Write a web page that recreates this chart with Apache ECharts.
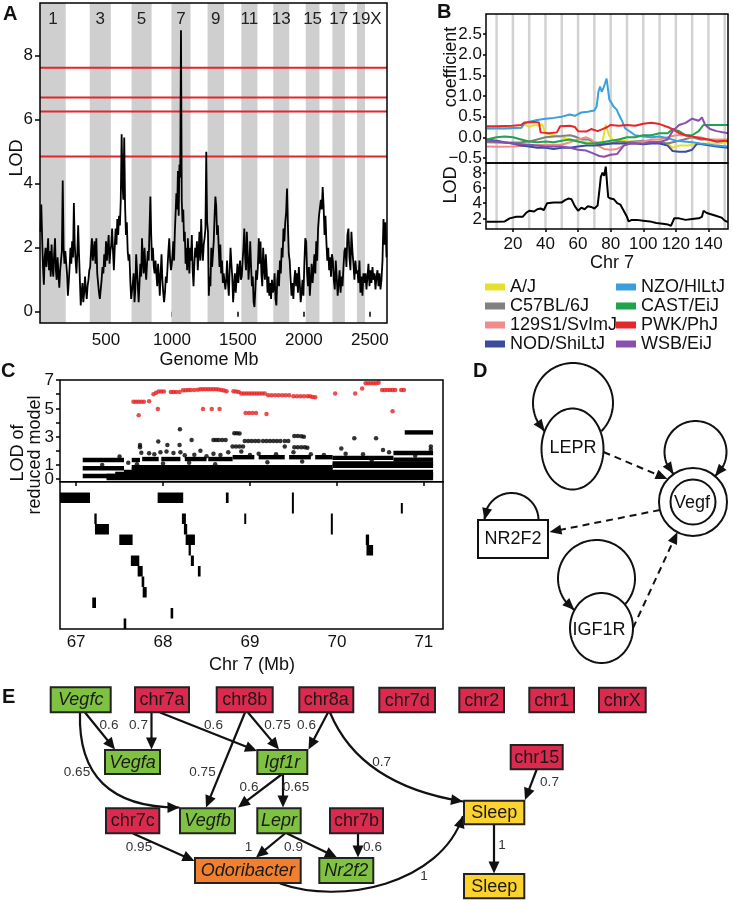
<!DOCTYPE html>
<html><head><meta charset="utf-8">
<script src="https://cdn.jsdelivr.net/npm/echarts@6/dist/echarts.min.js"></script>
<style>html,body{margin:0;padding:0;background:#fff}#c{width:733px;height:901px}</style>
</head><body><div id="c"></div><script>
const FONT = "'Liberation Sans', Arial, Helvetica, sans-serif";

// ================= Panel A data =================
const CHR_NAMES = ['1','2','3','4','5','6','7','8','9','10','11','12','13','14','15','16','17','18','19','X'];
const CHR_LEN = [195,182,160,157,152,150,145,129,125,131,122,120,121,125,104,98,95,91,61,167];
const LOD_C1 = [2.5,3.35,2.3,1.4,0.85,1.7,2.0,1.4,1.8,2.3,1.3,1.9,1.1,2.1,1.4,1.1,1.8,2.3,1.3,1.0,1.7,1.2,0.75,1.3,1.6,1.9,4.1,2.0,1.5,1.9];
const LOD_C2 = [1.9,1.2,0.5,0.9,1.4,2.0,1.5,2.2,1.7,3.4,2.1,1.6,1.2,1.8,2.7,1.8,1.0,0.2,0.6,0.9,0.3,0.6,1.1,0.7,0.4,0.8,1.0,1.3];
const LOD_C3 = [1.4,1.9,2.3,1.6,1.9,2.2,1.5,2.3,1.2,0.9,0.6,0.4,0.7,1.0,1.4,1.2,1.8,1.4,2.2,1.6,2.0,2.4,1.5,1.9];
const LOD_C4 = [2.1,2.6,1.9,1.3,2.0,2.6,2.1,2.9,2.4,3.0,2.7,3.5,5.55,4.0,3.5,5.45,3.3,2.4,2.8,1.9,1.6,1.8,1.0,0.4];
const LOD_C5 = [0.4,0.9,1.2,0.3,0.7,1.8,1.3,0.8,0.3,0.9,1.5,1.1,2.3,1.6,1.2,2.0,1.4,1.0,1.5,1.9,1.6,2.6,3.6,2.4];
const LOD_C6 = [1.6,2.0,1.4,1.2,1.6,1.2,0.8,1.5,1.1,0.5,1.2,1.8,1.0,0.6,0.3,0.6,1.1,0.9,1.4,1.9,2.3,1.6,1.3];
const LOD_C7 = [1.5,1.8,2.2,1.6,2.5,3.1,3.7,3.2,4.4,3.0,4.6,4.2,8.8,3.5,2.8,3.2,2.2,2.5,1.5,2.0,1.3,2.3,1.6,1.2,2.0];
const LOD_C8 = [1.6,2.4,1.3,0.8,1.5,2.0,1.7,2.2,1.3,1.9,2.5,1.6,2.9,2.0,1.6,2.1,2.3,2.6,5.0,2.8];
const LOD_C9 = [2.5,0.5,1.1,0.8,2.0,1.4,1.8,2.2,3.0,3.6,3.3,2.4,2.7,2.0,1.4,2.1,1.2,1.6,0.9,1.2];
const LOD_C10 = [1.2,0.7,1.0,1.6,0.9,0.5,1.3,2.0,1.5,1.1,0.3,0.8,1.2,0.6,1.0,1.5,0.9,1.3,1.6,1.0];
const LOD_C11 = [1.1,1.6,2.0,2.6,1.7,1.3,2.5,1.8,1.0,1.5,2.2,1.4,0.8,1.1,0.3,0.15,0.7,1.3,1.0];
const LOD_C12 = [1.4,2.3,1.5,2.2,1.2,0.8,2.0,1.4,1.0,1.8,1.3,0.6,1.1,0.5,0.9,0.4,1.0,0.6];
const LOD_C13 = [0.7,1.2,0.4,0.2,1.0,1.3,0.8,1.6,1.2,2.0,1.7,2.6,2.2,2.8,3.1,3.85,2.7,1.8];
const LOD_C14 = [1.6,1.0,0.5,0.9,0.4,1.0,1.3,0.8,1.2,0.6,1.4,0.9,0.3,0.6,1.0,0.5,1.5,2.3];
const LOD_C15 = [2.2,1.2,0.8,1.4,0.5,1.0,1.5,0.9,1.3,1.8,1.2,2.2,1.6,2.6,3.0];
const LOD_C16 = [3.0,3.5,3.2,3.9,3.3,2.4,3.0,2.2,1.6,2.0,1.3,1.7,1.1,1.8];
const LOD_C17 = [1.6,1.0,0.7,1.6,1.1,0.5,0.9,1.3,0.6,1.1,0.8,1.4,1.9];
const LOD_C18 = [2.0,1.4,2.4,2.6,1.7,1.3,2.5,1.9,1.5,1.0,1.6,1.2];
const LOD_C19 = [1.3,0.9,1.6,0.6,1.1,0.5,1.2,0.9];
const LOD_CX = [1.2,0.7,1.1,1.5,0.8,1.3,0.9,1.4,1.0,1.2,0.7,1.1,1.3,0.8,1.2,0.7,1.0,1.6,2.9,2.1,2.8,1.7];
const LOD_BY_CHR = [LOD_C1,LOD_C2,LOD_C3,LOD_C4,LOD_C5,LOD_C6,LOD_C7,LOD_C8,LOD_C9,LOD_C10,LOD_C11,LOD_C12,LOD_C13,LOD_C14,LOD_C15,LOD_C16,LOD_C17,LOD_C18,LOD_C19,LOD_CX];
const THRESHOLDS_A = [7.63, 6.70, 6.26, 4.85];
const A_XTICKS = [500,1000,1500,2000,2500];
const A_YTICKS = [0,2,4,6,8];

// ================= Panel B data =================
const STRAINS = ['A/J','C57BL/6J','129S1/SvImJ','NOD/ShiLtJ','NZO/HlLtJ','CAST/EiJ','PWK/PhJ','WSB/EiJ'];
const STRAIN_COLORS = ['#e6e02c','#808080','#f08c8c','#3a4ca0','#3c9fdb','#1fa34b','#e5262b','#8a4eaf'];
const COEF_AJ = [[4,0.2],[15,0.2],[25,0.22],[27,0.32],[30,0.25],[33,0.3],[36,0.28],[38,0.32],[40,0.1],[45,0.05],[50,0.0],[55,-0.05],[60,-0.1],[65,-0.12],[70,-0.15],[75,-0.1],[77,0.3],[79,0.05],[82,-0.1],[85,-0.05],[90,-0.1],[95,-0.1],[100,-0.1],[105,-0.12],[110,-0.1],[115,-0.15],[118,-0.25],[122,-0.2],[127,-0.2],[132,-0.18],[138,-0.15],[145,-0.15],[152,-0.12]];
const COEF_B6 = [[4,-0.12],[15,-0.13],[25,-0.12],[30,-0.1],[35,-0.05],[40,0.0],[45,0.02],[50,0.03],[55,0.05],[58,0.02],[62,-0.05],[66,-0.05],[70,-0.12],[75,-0.15],[80,-0.15],[85,-0.1],[90,-0.12],[95,-0.1],[100,-0.08],[105,-0.1],[110,-0.12],[115,-0.15],[120,-0.1],[125,-0.05],[130,0.0],[135,-0.05],[140,-0.05],[145,-0.1],[152,-0.08]];
const COEF_129 = [[4,-0.22],[10,-0.23],[20,-0.22],[30,-0.2],[40,-0.18],[50,-0.18],[55,-0.12],[60,-0.05],[65,0.0],[68,-0.05],[72,-0.2],[76,-0.28],[80,-0.3],[84,-0.28],[88,-0.2],[92,-0.15],[96,-0.12],[100,-0.1],[105,-0.05],[110,-0.05],[115,0.0],[120,0.05],[125,0.05],[130,0.0],[135,0.0],[140,-0.05],[145,-0.05],[152,-0.05]];
const COEF_NOD = [[4,-0.05],[10,-0.08],[15,-0.12],[20,-0.15],[25,-0.2],[30,-0.22],[35,-0.25],[40,-0.25],[45,-0.28],[50,-0.25],[55,-0.25],[60,-0.22],[65,-0.2],[70,-0.2],[75,-0.18],[80,-0.15],[85,-0.15],[90,-0.15],[95,-0.15],[100,-0.17],[105,-0.15],[110,-0.15],[115,-0.2],[118,-0.33],[122,-0.35],[126,-0.35],[130,-0.3],[133,-0.15],[138,-0.18],[145,-0.22],[152,-0.25]];
const COEF_NZO = [[4,0.22],[15,0.22],[25,0.23],[27,0.33],[30,0.38],[35,0.42],[40,0.45],[45,0.47],[50,0.5],[55,0.55],[58,0.52],[62,0.6],[66,0.62],[70,0.65],[71.4,0.75],[72.5,1.1],[73.5,1.23],[74.5,1.1],[75.5,1.19],[76.5,1.3],[77.5,1.42],[78.6,1.46],[79.2,0.91],[80.6,0.83],[81.6,0.75],[83.7,0.67],[85,0.55],[86.7,0.42],[88.8,0.22],[91.8,0.14],[95,0.05],[100,0.02],[105,0.0],[110,0.02],[115,-0.02],[120,-0.08],[125,-0.1],[130,-0.12],[135,-0.15],[140,-0.17],[145,-0.2],[152,-0.22]];
const COEF_CAST = [[4,-0.05],[10,0.0],[15,0.02],[20,0.0],[25,-0.05],[30,-0.1],[35,-0.12],[40,-0.1],[45,-0.12],[50,-0.08],[55,-0.05],[60,-0.1],[65,-0.15],[70,-0.15],[75,-0.12],[80,-0.08],[85,-0.05],[90,0.0],[95,0.0],[100,0.05],[105,0.05],[110,0.1],[115,0.1],[118,0.2],[122,0.15],[126,0.05],[130,0.05],[134,0.15],[137,0.3],[145,0.3],[152,0.3]];
const COEF_PWK = [[4,0.27],[10,0.27],[20,0.28],[25,0.3],[27,0.36],[33,0.37],[36,0.36],[37,0.12],[42,0.1],[47,0.12],[49,0.27],[55,0.28],[58,0.25],[60,0.15],[65,0.14],[68,0.2],[72,0.15],[75,0.2],[78,0.25],[80,0.3],[85,0.28],[90,0.3],[95,0.28],[100,0.33],[105,0.35],[110,0.32],[115,0.25],[118,0.2],[122,0.1],[126,0.05],[130,0.02],[135,-0.02],[140,-0.05],[145,-0.1],[150,-0.08],[152,-0.1]];
const COEF_WSB = [[4,-0.08],[10,-0.1],[20,-0.15],[30,-0.18],[40,-0.22],[50,-0.22],[55,-0.25],[60,-0.3],[65,-0.32],[70,-0.4],[73,-0.45],[76,-0.47],[80,-0.42],[84,-0.4],[88,-0.2],[92,-0.15],[100,-0.15],[105,-0.12],[110,-0.12],[115,-0.05],[118,0.15],[122,0.3],[126,0.35],[130,0.45],[134,0.4],[136,0.48],[138,0.3],[141,0.2],[145,0.15],[152,0.1]];
const COEF_BY_STRAIN = [COEF_AJ,COEF_B6,COEF_129,COEF_NOD,COEF_NZO,COEF_CAST,COEF_PWK,COEF_WSB];
const LOD_CHR7 = [[4,1.55],[10,1.55],[15,1.6],[18,2.0],[22,2.2],[26,2.2],[28,2.7],[30,3.0],[33,2.9],[35,3.2],[37,3.3],[39,3.1],[41,4.0],[45,4.1],[50,4.1],[52,4.4],[54,4.6],[55,4.8],[56,4.5],[58,3.6],[60,3.0],[62,3.4],[64,3.2],[66,3.6],[68,3.5],[70,3.3],[72,3.7],[73,5.5],[74,7.5],[75,8.0],[76,7.6],[77,8.8],[78,6.0],[78.5,4.8],[80,4.6],[82,4.5],[84,4.0],[86,3.8],[88,3.0],[90,2.2],[91,1.6],[93,1.8],[96,1.8],[100,1.7],[104,1.6],[108,1.4],[112,1.3],[115,1.2],[117,1.0],[118,0.9],[119,2.0],[122,2.0],[126,1.8],[130,1.9],[134,2.0],[136,2.2],[137,3.0],[139,2.7],[142,2.5],[145,2.3],[148,2.1],[150,1.7],[152,1.5]];
const B_GRIDLINES = [10,20,30,40,50,60,70,80,90,100,110,120,130,140,150];
const B_XTICKS = [20,40,60,80,100,120,140];
const B_COEF_TICKS = [-0.5,0,0.5,1,1.5,2,2.5];
const B_LOD_TICKS = [2,4,6,8];

// ================= Panel C data =================
const RED_C = [[67.66,5.47],[67.69,5.47],[67.72,5.47],[67.75,5.47],[67.78,5.47],[67.72,4.52],[67.84,5.5],[67.89,6.0],[67.92,6.1],[67.95,6.18],[67.98,6.18],[68.01,6.18],[67.94,4.95],[68.09,6.15],[68.12,6.15],[68.15,6.15],[68.19,6.15],[68.23,6.28],[68.26,6.28],[68.29,6.3],[68.32,6.3],[68.36,6.3],[68.40,6.32],[68.43,6.35],[68.46,6.35],[68.49,6.35],[68.52,6.35],[68.55,6.35],[68.58,6.35],[68.61,6.35],[68.64,6.33],[68.67,6.3],[68.70,6.25],[68.73,6.2],[68.46,4.95],[68.56,4.95],[68.65,4.95],[68.81,6.2],[68.84,6.18],[68.87,6.15],[68.90,6.05],[68.93,6.05],[68.96,6.05],[68.99,6.05],[69.02,6.05],[69.05,6.05],[69.08,6.05],[69.11,6.05],[69.14,6.05],[69.17,6.05],[68.95,4.67],[68.99,4.67],[69.03,4.67],[69.07,4.67],[69.19,4.6],[69.21,5.93],[69.25,5.93],[69.29,5.93],[69.33,5.93],[69.37,5.93],[69.41,5.93],[69.45,5.93],[69.50,5.85],[69.54,5.85],[69.58,5.85],[69.62,5.85],[69.66,5.85],[69.69,5.85],[69.72,5.8],[69.75,5.78],[69.98,6.05],[70.21,6.05],[70.29,6.4],[70.33,6.77],[70.36,6.77],[70.39,6.77],[70.42,6.77],[70.45,6.77],[70.48,6.8],[70.52,6.3],[70.55,6.3],[70.58,6.3],[70.61,6.3],[70.64,6.3],[70.67,6.3],[70.64,4.8],[70.74,6.3],[70.77,6.3]];
const BLACK_C = [[67.735,2.41],[67.735,2.25],[67.75,1.87],[67.945,2.65],[68.05,2.41],[68.19,2.41],[68.194,3.52],[68.329,2.77],[68.58,2.77],[68.61,2.77],[68.64,2.77],[68.68,2.77],[68.72,2.77],[68.82,3.24],[68.85,3.24],[68.88,3.22],[68.80,2.3],[68.84,2.3],[68.88,2.3],[68.92,2.3],[68.94,2.7],[68.98,2.7],[69.02,2.7],[69.06,2.7],[69.10,2.7],[69.15,2.7],[69.19,2.7],[69.23,2.7],[69.27,2.7],[69.31,2.7],[69.35,2.7],[69.40,2.7],[69.44,2.7],[69.40,2.3],[69.51,3.05],[69.55,3.05],[69.59,3.03],[69.62,3.0],[69.51,2.25],[69.55,2.25],[69.59,2.25],[69.63,2.25],[69.66,2.22],[70.05,2.17],[70.2,2.88],[70.45,2.88],[70.53,2.06],[71.08,2.3],[71.08,2.1],[67.84,1.83],[67.9,1.75],[67.97,1.9],[68.04,1.95],[68.12,1.85],[68.2,1.9],[68.25,1.68],[68.36,1.72],[68.43,2.0],[68.5,1.62],[68.58,1.8],[68.66,1.7],[68.75,1.9],[68.9,1.95],[69.0,1.7],[69.1,1.8],[69.3,1.75],[69.5,1.9],[69.7,1.75],[69.85,1.7],[70.1,1.8],[70.3,1.75],[70.6,1.9],[67.5,1.6],[67.6,1.15],[67.3,1.0],[67.7,1.05],[68.0,1.1],[68.3,1.15],[68.6,1.05],[69.2,1.2],[69.6,1.25],[70.4,1.3],[70.9,1.65]];
// dense runs of markers: [startMb, endMb, LOD]
const BLACK_RUNS_C = [[67.076,67.551,1.35],[67.076,67.551,0.77],[67.076,67.551,0.22],[67.35,71.106,0.08],[67.35,71.106,0.22],[67.45,71.106,0.36],[67.55,71.106,0.5],[67.64,69.95,0.66],[67.64,69.95,0.85],[69.95,71.106,0.95],[69.95,71.106,1.1],[67.64,67.735,1.35],[67.76,67.95,1.42],[67.98,68.2,1.42],[68.25,68.5,1.42],[68.52,68.8,1.42],[68.8,69.05,1.55],[69.1,69.4,1.55],[69.45,69.7,1.55],[69.75,69.95,1.55],[69.95,70.65,1.5],[70.65,71.106,1.38],[70.65,71.106,1.85],[70.78,71.106,3.3]];
// genes: [startMb, endMb, lane]
const GENES_C = [[66.815,67.16,1],[67.938,68.232,1],[68.723,68.754,1],[69.482,69.505,1],[69.482,69.505,2],[70.735,70.758,2],[67.21,67.237,3],[67.217,67.378,4],[67.497,67.65,5],[67.63,67.727,7],[67.708,67.766,8],[67.754,67.784,9],[67.766,67.812,10],[67.186,67.229,11],[68.087,68.117,12],[67.547,67.577,13],[68.217,68.263,3],[68.24,68.278,4],[68.26,68.367,5],[68.294,68.32,6],[68.32,68.355,7],[68.401,68.432,8],[68.934,68.957,3],[69.93,69.953,3],[69.93,69.953,4],[70.332,70.37,5],[70.34,70.416,6]];
const C_XTICKS = [67,68,69,70,71];
const C_YTICKS = [0,1,3,5,7];
const C_YMINOR = [0,1,2,3,4,5,6,7];

// ================= Panel D data =================
const D_NODES = ['LEPR','Vegf','NR2F2','IGF1R'];
const D_SELF = ['LEPR','Vegf','NR2F2','IGF1R'];
const D_EDGES = [['LEPR','Vegf'],['Vegf','NR2F2'],['IGF1R','Vegf']];

// ================= Panel E data =================
const E_IDS = ['Vegfc','chr7a','chr8b','chr8a','chr7d','chr2','chr1','chrX','Vegfa','Igf1r','chr7c','Vegfb','Lepr','chr7b','Odoribacter','Nr2f2','chr15','Sleep1','Sleep2'];
const E_LABELS = ['Vegfc','chr7a','chr8b','chr8a','chr7d','chr2','chr1','chrX','Vegfa','Igf1r','chr7c','Vegfb','Lepr','chr7b','Odoribacter','Nr2f2','chr15','Sleep','Sleep'];
const E_TYPES = ['gene','qtl','qtl','qtl','qtl','qtl','qtl','qtl','gene','gene','qtl','gene','gene','qtl','microbe','gene','qtl','pheno','pheno'];
const E_FROM = ['Vegfc','chr7a','chr7a','chr8b','chr8b','chr8a','chr8a','Vegfc','Igf1r','Igf1r','chr7c','Lepr','Lepr','chr7b','Odoribacter','chr15','Sleep1'];
const E_TO   = ['Vegfa','Vegfa','Igf1r','Vegfb','Igf1r','Igf1r','Sleep1','Vegfb','Vegfb','Lepr','Odoribacter','Odoribacter','Nr2f2','Nr2f2','Sleep1','Sleep1','Sleep2'];
const E_WEIGHT = [0.6,0.7,0.6,0.75,0.75,0.6,0.7,0.65,0.6,0.65,0.95,1,0.9,0.6,1,0.7,1];

// ================= Layout (positions/styles only) =================
const D_LAYOUT = {
  nodes: {
    LEPR: {shape:'ellipse', cx:572.5, cy:449, rx:31, ry:40.5, lx:573, ly:448},
    Vegf: {shape:'double', cx:693, cy:502, r:34, r2:22.5, lx:692, ly:503},
    NR2F2: {shape:'rect', x:478, y:520, w:70, h:38, lx:513, ly:539},
    IGF1R: {shape:'ellipse', cx:601.5, cy:628, rx:31.5, ry:35, lx:599, ly:630}
  },
  loops: {
    LEPR: {cx:573, cy:403, r:40, a0:45, a1:-225, start:false, end:true},
    Vegf: {cx:695.5, cy:452, r:31, a0:135, a1:411, start:true, end:true},
    NR2F2: {cx:511.5, cy:520, r:27, a0:0, a1:-180, start:false, end:true},
    IGF1R: {cx:596.5, cy:578.5, r:38.5, a0:42, a1:-235, start:false, end:true}
  },
  edges: [ {s:[603.5,452], e:[667.5,479]}, {s:[660,510], e:[549.5,532]}, {s:[633,628], e:[677.5,532]} ]
};
const E_BOX = {
  Vegfc:[50.7,687.3,110.7,712.3], chr7a:[135,687.3,189,712.3], chr8b:[216.7,687.3,272.7,712.3], chr8a:[299.3,687.3,353.3,712.3],
  chr7d:[379.3,687.8,435,712.3], chr2:[459.3,687.8,504,712.3], chr1:[529.3,687.8,574,712.3], chrX:[599,687.8,645.7,712.3],
  Vegfa:[105,750,160,774], Igf1r:[257.3,750,307.3,774], chr7c:[106,808.3,159.3,833.3], Vegfb:[180,808.3,235,833.3],
  Lepr:[257.3,808.3,300.7,833.3], chr7b:[330,808.3,383,833.3], Odoribacter:[195,858,300.7,883], Nr2f2:[319.3,858,373.3,883],
  chr15:[510.7,745,562.7,769.3], Sleep1:[464,800.7,524.3,824.3], Sleep2:[464,874,524.3,898.3]
};
const E_EDGE_LAYOUT = [
  {s:[85,712.5], e:[115,749.5], lab:[109,725]},
  {s:[151.5,712.5], e:[151.5,749.5], lab:[138.5,725]},
  {s:[160,712.5], e:[257,751], lab:[213.5,725]},
  {s:[245,712.5], e:[206,807.5], lab:[202.5,772]},
  {s:[248,712.5], e:[279,749.5], lab:[277.5,725]},
  {s:[328,712.5], e:[308.5,749.5], lab:[306.5,725]},
  {s:[330,712.5], c1:[360,785], e:[463,801.5], lab:[381.7,762.5]},
  {s:[80,712.5], c1:[78,775], c2:[110,808], e:[179.5,807.5], lab:[77,772]},
  {s:[281.5,774.5], e:[238,807.5], lab:[249,787]},
  {s:[283,774.5], e:[283,807.5], lab:[296,787]},
  {s:[133,833.5], e:[194.5,861], lab:[139,847]},
  {s:[285,833.5], e:[256,857.5], lab:[248.5,847]},
  {s:[287,833.5], e:[337,857.5], lab:[293.5,847]},
  {s:[358,833.5], e:[358,857.5], lab:[372.5,847]},
  {s:[280,883.5], c1:[340,905], c2:[440,885], e:[463,816], lab:[424,876]},
  {s:[536.7,769.5], e:[525,800], lab:[549.5,782]},
  {s:[494,824.5], e:[494,873.5], lab:[502,845]}
];
const E_COLORS = {gene:'#7fc241', qtl:'#db2a4d', microbe:'#f0802f', pheno:'#fbd22e'};

// ================= helpers =================
function txt(t, x, y, size, opts) {
  opts = opts || {};
  return {type:'text', x:x, y:y, rotation:opts.rot||0, silent:true, z:opts.z||10,
    style:{text:t, fill:opts.color||'#111', font:(opts.style||'normal')+' '+(opts.weight||'normal')+' '+size+'px '+FONT,
      align:opts.align||'center', verticalAlign:opts.va||'middle', textAlign:opts.align||'center', textVerticalAlign:opts.va||'middle'}};
}
function arrowPoly(tip, from, L, W, color) {
  const dx = tip[0]-from[0], dy = tip[1]-from[1]; const d = Math.hypot(dx,dy)||1;
  const ux = dx/d, uy = dy/d; const bx = tip[0]-ux*L, by = tip[1]-uy*L;
  return {type:'polygon', shape:{points:[[tip[0],tip[1]],[bx-uy*W, by+ux*W],[bx+uy*W, by-ux*W]]}, style:{fill:color||'#111', stroke:null}};
}
function arcPoint(cx, cy, r, a) { const t = a*Math.PI/180; return [cx + r*Math.cos(t), cy + r*Math.sin(t)]; }
function arcPts(cx, cy, r, a0, a1) {
  const n = Math.max(8, Math.ceil(Math.abs(a1-a0)/3)); const pts = [];
  for (let i=0;i<=n;i++) pts.push(arcPoint(cx, cy, r, a0+(a1-a0)*i/n));
  return pts;
}
function ellipsePts(cx, cy, rx, ry) { const p=[]; for (let i=0;i<90;i++){const t=i/90*2*Math.PI; p.push([cx+rx*Math.cos(t), cy+ry*Math.sin(t)]);} return p; }
function baseAxis(o) {
  const a = {type:'value', axisLine:{show:false}, splitLine:{show:false},
    axisTick:{show:false, inside:false, length:5, lineStyle:{color:'#000', width:1.5}},
    axisLabel:{show:false, color:'#111', fontSize:17, fontFamily:FONT, margin:6, showMinLabel:true, showMaxLabel:true, hideOverlap:false, formatter:v => String(v)}};
  for (const k in o) {
    if (typeof o[k] === 'object' && !Array.isArray(o[k]) && a[k]) a[k] = Object.assign({}, a[k], o[k]); else a[k] = o[k];
  }
  return a;
}
// tick labels placed at axis values through the axis scale (for tightly spaced labels)
function yTickLabelSeries(axisIdx, xAt, ticks, gap) {
  return {type:'custom', xAxisIndex:axisIdx, yAxisIndex:axisIdx, z:7, silent:true, clip:false, data:ticks.map(v=>[xAt, v]), encode:{y:1},
    renderItem:(p, api) => { const c = api.coord([xAt, api.value(1)]);
      return {type:'text', style:{text:String(api.value(1)), x:c[0]-gap, y:c[1]+0.5, fill:'#111', font:'17px '+FONT,
        align:'right', verticalAlign:'middle', textAlign:'right', textVerticalAlign:'middle'}}; }};
}

// ================= derived data for the library =================
const A_DATA = []; const A_BANDS = [];
(function(){ let off = 0;
  CHR_LEN.forEach((L, k) => { const vals = LOD_BY_CHR[k];
    vals.forEach((v, i) => A_DATA.push([off + (i+0.5)*L/vals.length, v]));
    if (k % 2 === 0 || CHR_NAMES[k] === 'X') A_BANDS.push([off, off+L, k]);
    off += L; });
})();
const A_YMIN = -0.35, A_YMAX = 9.65, A_XMAX = 2630;
const B_XMIN = 3.5, B_XMAX = 152, B_CMIN = -0.62, B_CMAX = 2.98, B_LMIN = 0.6, B_LMAX = 9.28;
const C_XMIN = 66.815, C_XMAX = 71.22, C_YMINV = -0.18, C_YMAXV = 7.0;

const series = [];
// A bands
series.push({type:'custom', xAxisIndex:0, yAxisIndex:0, z:1, silent:true, data:A_BANDS, encode:{x:[0,1]},
  renderItem:(p, api) => { const k = api.value(2); const a = api.coord([api.value(0), A_YMAX]); const b = api.coord([api.value(1), A_YMIN]);
    const gray = CHR_NAMES[k] !== 'X';
    const ch = [];
    if (gray) ch.push({type:'rect', shape:{x:a[0], y:a[1], width:b[0]-a[0], height:b[1]-a[1]}, style:{fill:'#cfcfcf'}});
    ch.push({type:'text', style:{text:CHR_NAMES[k], x:(a[0]+b[0])/2, y:a[1]+8, fill:'#222', font:'17px '+FONT, align:'center', verticalAlign:'top', textAlign:'center', textVerticalAlign:'top'}});
    return {type:'group', children:ch}; }});
// A thresholds
series.push({type:'custom', xAxisIndex:0, yAxisIndex:0, z:2, silent:true, data:THRESHOLDS_A.map(v=>[0,v]), encode:{y:1},
  renderItem:(p, api) => { const a = api.coord([0, api.value(1)]), b = api.coord([A_XMAX, api.value(1)]);
    return {type:'line', shape:{x1:a[0], y1:a[1], x2:b[0], y2:b[1]}, style:{stroke:'#e3262c', lineWidth:2}}; }});
// A LOD line
series.push({type:'line', name:'LOD genome', xAxisIndex:0, yAxisIndex:0, z:3, data:A_DATA, showSymbol:false, symbol:'none',
  lineStyle:{color:'#000', width:1.8}, silent:true});
// B gray lines
[[1,B_CMIN,B_CMAX],[2,B_LMIN,B_LMAX]].forEach(([gi, y0, y1]) => {
  series.push({type:'custom', xAxisIndex:gi, yAxisIndex:gi, z:1, silent:true, data:B_GRIDLINES.map(v=>[v]), encode:{x:0},
    renderItem:(p, api) => { const a = api.coord([api.value(0), y0]), b = api.coord([api.value(0), y1]);
      return {type:'line', shape:{x1:a[0], y1:a[1], x2:b[0], y2:b[1]}, style:{stroke:'#d2d2d2', lineWidth:2.5}}; }});
});
STRAINS.forEach((s, i) => series.push({type:'line', name:s, xAxisIndex:1, yAxisIndex:1, z:3, data:COEF_BY_STRAIN[i], showSymbol:false, symbol:'none',
  lineStyle:{color:STRAIN_COLORS[i], width:2}, itemStyle:{color:STRAIN_COLORS[i]}, silent:true}));
series.push({type:'line', name:'LOD chr7', xAxisIndex:2, yAxisIndex:2, z:3, data:LOD_CHR7, showSymbol:false, symbol:'none', lineStyle:{color:'#000', width:2}, silent:true});
series.push(yTickLabelSeries(2, B_XMIN, B_LOD_TICKS, 4));
// C
series.push({type:'custom', xAxisIndex:3, yAxisIndex:3, z:2, silent:true, data:BLACK_RUNS_C, encode:{x:[0,1], y:2},
  renderItem:(p, api) => { const a = api.coord([api.value(0), api.value(2)]), b = api.coord([api.value(1), api.value(2)]);
    return {type:'rect', shape:{x:a[0], y:a[1]-2.2, width:b[0]-a[0], height:4.4}, style:{fill:'#000'}}; }});
series.push({type:'scatter', xAxisIndex:3, yAxisIndex:3, z:3, data:BLACK_C, symbol:'circle', symbolSize:4.5, itemStyle:{color:'#000'}, silent:true});
series.push({type:'scatter', xAxisIndex:3, yAxisIndex:3, z:3, data:RED_C, symbol:'circle', symbolSize:4.5, itemStyle:{color:'#e8201f'}, silent:true});
series.push(yTickLabelSeries(3, C_XMIN, C_YTICKS, 6));
series.push({type:'custom', xAxisIndex:4, yAxisIndex:4, z:2, silent:true, data:GENES_C, encode:{x:[0,1], y:2},
  renderItem:(p, api) => { const a = api.coord([api.value(0), api.value(2)]), b = api.coord([api.value(1), api.value(2)+1]);
    const w = Math.max(b[0]-a[0], 2);
    return {type:'rect', shape:{x:a[0], y:a[1], width:w, height:b[1]-a[1]}, style:{fill:'#000'}}; }});

// D network
const D_ITEMS = [];
D_SELF.forEach(n => D_ITEMS.push({kind:'loop', n:n}));
D_NODES.forEach(n => D_ITEMS.push({kind:'node', n:n}));
D_EDGES.forEach((e, i) => D_ITEMS.push({kind:'edge', i:i}));
series.push({type:'custom', xAxisIndex:5, yAxisIndex:5, z:4, silent:true, data:D_ITEMS.map((d,i)=>[i,0]),
  renderItem:(p, api) => {
    const it = D_ITEMS[p.dataIndex]; const C = q => api.coord(q); const ch = [];
    if (it.kind === 'loop') {
      const lp = D_LAYOUT.loops[it.n];
      const pts = arcPts(lp.cx, lp.cy, lp.r, lp.a0, lp.a1).map(C);
      ch.push({type:'polyline', shape:{points:pts}, style:{stroke:'#111', lineWidth:2, fill:'none'}});
      const dA = Math.sign(lp.a1-lp.a0) * (12/lp.r) * 180/Math.PI;
      if (lp.end) ch.push(arrowPoly(pts[pts.length-1], C(arcPoint(lp.cx, lp.cy, lp.r, lp.a1 - dA)), 12, 5));
      if (lp.start) ch.push(arrowPoly(pts[0], C(arcPoint(lp.cx, lp.cy, lp.r, lp.a0 + dA)), 12, 5));
    } else if (it.kind === 'node') {
      const nd = D_LAYOUT.nodes[it.n];
      if (nd.shape === 'ellipse') ch.push({type:'polygon', shape:{points:ellipsePts(nd.cx, nd.cy, nd.rx, nd.ry).map(C)}, style:{fill:'#fff', stroke:'#111', lineWidth:2}});
      else if (nd.shape === 'double') {
        const c = C([nd.cx, nd.cy]);
        ch.push({type:'circle', shape:{cx:c[0], cy:c[1], r:nd.r}, style:{fill:'#fff', stroke:'#111', lineWidth:2}});
        ch.push({type:'circle', shape:{cx:c[0], cy:c[1], r:nd.r2}, style:{fill:'#fff', stroke:'#111', lineWidth:2}});
      } else {
        const a = C([nd.x, nd.y]);
        ch.push({type:'rect', shape:{x:a[0], y:a[1], width:nd.w, height:nd.h}, style:{fill:'#fff', stroke:'#111', lineWidth:2}});
      }
      const l = C([nd.lx, nd.ly]);
      ch.push({type:'text', style:{text:it.n, x:l[0], y:l[1], fill:'#111', font:'18px '+FONT, align:'center', verticalAlign:'middle', textAlign:'center', textVerticalAlign:'middle'}});
    } else {
      const ed = D_LAYOUT.edges[it.i]; const s = C(ed.s), e = C(ed.e);
      const dx = e[0]-s[0], dy = e[1]-s[1], d = Math.hypot(dx, dy);
      const stop = [e[0]-dx/d*9, e[1]-dy/d*9];
      ch.push({type:'line', shape:{x1:s[0], y1:s[1], x2:stop[0], y2:stop[1]}, style:{stroke:'#111', lineWidth:2, lineDash:[7,5]}});
      ch.push(arrowPoly(e, s, 12, 5));
    }
    return {type:'group', children:ch};
  }});

// E network: edges
series.push({type:'custom', xAxisIndex:5, yAxisIndex:5, z:4, silent:true, data:E_FROM.map((f,i)=>[i,0]),
  renderItem:(p, api) => {
    const i = p.dataIndex, L = E_EDGE_LAYOUT[i]; const C = q => api.coord(q); const ch = [];
    const s = C(L.s), e = C(L.e);
    let from;
    if (L.c2) { const c1 = C(L.c1), c2 = C(L.c2); from = c2;
      ch.push({type:'bezierCurve', shape:{x1:s[0], y1:s[1], cpx1:c1[0], cpy1:c1[1], cpx2:c2[0], cpy2:c2[1], x2:e[0], y2:e[1]}, style:{stroke:'#111', lineWidth:2.2, fill:'none'}});
    } else if (L.c1) { const c1 = C(L.c1); from = c1;
      ch.push({type:'bezierCurve', shape:{x1:s[0], y1:s[1], cpx1:c1[0], cpy1:c1[1], x2:e[0], y2:e[1]}, style:{stroke:'#111', lineWidth:2.2, fill:'none'}});
    } else { from = s;
      const dx = e[0]-s[0], dy = e[1]-s[1], d = Math.hypot(dx, dy);
      ch.push({type:'line', shape:{x1:s[0], y1:s[1], x2:e[0]-dx/d*8, y2:e[1]-dy/d*8}, style:{stroke:'#111', lineWidth:2.2}});
    }
    ch.push(arrowPoly(e, from, 12, 5.5));
    const lb = C(L.lab);
    ch.push({type:'text', style:{text:String(E_WEIGHT[i]), x:lb[0], y:lb[1], fill:'#333', font:'13.5px '+FONT, align:'center', verticalAlign:'middle', textAlign:'center', textVerticalAlign:'middle'}});
    return {type:'group', children:ch};
  }});
// E network: nodes
series.push({type:'custom', xAxisIndex:5, yAxisIndex:5, z:5, silent:true, data:E_IDS.map((f,i)=>[i,0]),
  renderItem:(p, api) => {
    const i = p.dataIndex, b = E_BOX[E_IDS[i]]; const a = api.coord([b[0], b[1]]), c = api.coord([b[2], b[3]]);
    const t = E_TYPES[i]; const ital = (t === 'gene' || t === 'microbe') ? 'italic ' : '';
    return {type:'group', children:[
      {type:'rect', shape:{x:a[0], y:a[1], width:c[0]-a[0], height:c[1]-a[1]}, style:{fill:E_COLORS[t], stroke:'#222', lineWidth:2}},
      {type:'text', style:{text:E_LABELS[i], x:(a[0]+c[0])/2, y:(a[1]+c[1])/2+0.5, fill:'#1a1a1a', font:ital+'18px '+FONT, align:'center', verticalAlign:'middle', textAlign:'center', textVerticalAlign:'middle'}}
    ]};
  }});

const gridStyle = {show:true, z:6, backgroundColor:'transparent', borderColor:'#000', borderWidth:1.5};
const option = {
  animation:false,
  textStyle:{fontFamily:FONT},
  grid:[
    Object.assign({left:40, top:3, width:347, height:320}, gridStyle),
    Object.assign({left:486, top:14, width:242, height:149}, gridStyle),
    Object.assign({left:486, top:163, width:242, height:66}, gridStyle),
    Object.assign({left:60, top:380, width:383, height:101.7}, gridStyle),
    Object.assign({left:60, top:481.7, width:383, height:147.3}, gridStyle),
    {left:0, top:0, width:733, height:901, show:false}
  ],
  xAxis:[
    baseAxis({gridIndex:0, min:0, max:A_XMAX, axisTick:{show:true, length:5, customValues:A_XTICKS}, axisLabel:{show:true, customValues:A_XTICKS, margin:9}}),
    baseAxis({gridIndex:1, min:B_XMIN, max:B_XMAX}),
    baseAxis({gridIndex:2, min:B_XMIN, max:B_XMAX, axisTick:{show:true, length:3, customValues:B_XTICKS}, axisLabel:{show:true, customValues:B_XTICKS, margin:7}}),
    baseAxis({gridIndex:3, min:C_XMIN, max:C_XMAX}),
    baseAxis({gridIndex:4, min:C_XMIN, max:C_XMAX, axisTick:{show:true, length:4, customValues:C_XTICKS}, axisLabel:{show:true, customValues:C_XTICKS, margin:5}}),
    baseAxis({gridIndex:5, min:0, max:733, show:false})
  ],
  yAxis:[
    baseAxis({gridIndex:0, min:A_YMIN, max:A_YMAX, axisTick:{show:true, length:5, customValues:A_YTICKS}, axisLabel:{show:true, customValues:A_YTICKS, margin:7}}),
    baseAxis({gridIndex:1, min:B_CMIN, max:B_CMAX, axisTick:{show:true, length:3, customValues:B_COEF_TICKS}, axisLabel:{show:true, customValues:B_COEF_TICKS, margin:4,
      formatter:v => (v < 0 ? '\u2212' : '') + Math.abs(v).toFixed(1)}}),
    baseAxis({gridIndex:2, min:B_LMIN, max:B_LMAX, axisTick:{show:true, length:3, customValues:B_LOD_TICKS}}),
    baseAxis({gridIndex:3, min:C_YMINV, max:C_YMAXV, axisTick:{show:true, length:4, customValues:C_YMINOR}}),
    baseAxis({gridIndex:4, min:-0.03, max:14, inverse:true}),
    baseAxis({gridIndex:5, min:0, max:901, inverse:true, show:false})
  ],
  legend:[
    {data:STRAINS.slice(0,4), orient:'vertical', left:485, top:278, itemGap:1, itemWidth:20, itemHeight:7, icon:'rect', padding:0, selectedMode:false,
      textStyle:{fontSize:18, color:'#111', fontFamily:FONT}},
    {data:STRAINS.slice(4), orient:'vertical', left:616, top:278, itemGap:1, itemWidth:20, itemHeight:7, icon:'rect', padding:0, selectedMode:false,
      textStyle:{fontSize:18, color:'#111', fontFamily:FONT}}
  ],
  graphic:[
    txt('A', 3, 4, 20, {weight:'bold', align:'left', va:'top'}),
    txt('B', 437, 2, 20, {weight:'bold', align:'left', va:'top'}),
    txt('C', 1, 361, 20, {weight:'bold', align:'left', va:'top'}),
    txt('D', 473, 361, 20, {weight:'bold', align:'left', va:'top'}),
    txt('E', 2, 687, 20, {weight:'bold', align:'left', va:'top'}),
    txt('LOD', 17, 158, 18, {rot:Math.PI/2}),
    txt('Genome Mb', 209, 360, 18),
    txt('coefficient', 451, 67, 18, {rot:Math.PI/2}),
    txt('LOD', 451, 185, 18, {rot:Math.PI/2}),
    txt('Chr 7', 612, 263, 18),
    txt('LOD of', 18, 453, 18, {rot:Math.PI/2}),
    txt('reduced model', 35, 455, 18, {rot:Math.PI/2}),
    txt('Chr 7 (Mb)', 252, 665, 18)
  ],
  series:series
};
const chart = echarts.init(document.getElementById('c'), null, {width:733, height:901});
chart.setOption(option);
</script></body></html>
